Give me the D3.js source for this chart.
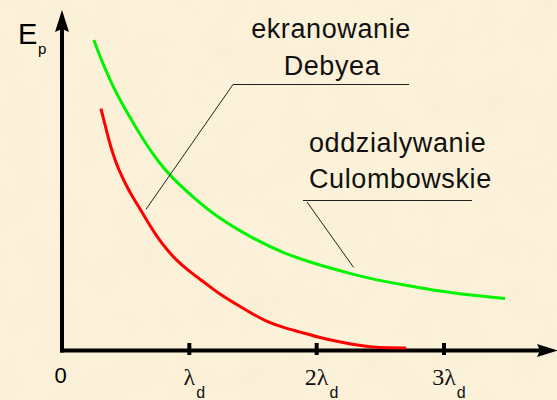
<!DOCTYPE html>
<html>
<head>
<meta charset="utf-8">
<script src="https://cdn.jsdelivr.net/npm/d3@7"></script>
<style>
  html, body { margin: 0; padding: 0; background: #fbf0d8; }
  svg { display: block; }
</style>
</head>
<body>
<svg id="chart" width="557" height="400"></svg>
<script>
// Distance in units of the Debye length λd, energy in arbitrary units
const coulombX = [0.25, 0.30, 0.35, 0.40, 0.46, 0.56, 0.66, 0.76, 0.86, 1.03, 1.22, 1.48, 1.74, 2.00, 2.26, 2.44, 2.71, 2.97, 3.23, 3.48];
const coulombY = [3.10, 2.93, 2.78, 2.64, 2.49, 2.27, 2.06, 1.88, 1.73, 1.53, 1.33, 1.13, 0.97, 0.86, 0.77, 0.71, 0.65, 0.59, 0.55, 0.52];

const debyeX = [0.306, 0.338, 0.377, 0.416, 0.456, 0.510, 0.558, 0.613, 0.668, 0.746, 0.825, 0.903, 1.005, 1.123, 1.241, 1.359, 1.476, 1.610, 1.751, 1.869, 2.003, 2.144, 2.262, 2.419, 2.576, 2.702];
const debyeY = [2.415, 2.255, 2.055, 1.905, 1.775, 1.635, 1.525, 1.415, 1.295, 1.135, 1.005, 0.895, 0.785, 0.675, 0.560, 0.470, 0.380, 0.285, 0.225, 0.185, 0.135, 0.095, 0.065, 0.035, 0.025, 0.025];

const tickValues = [1, 2, 3];
const tickLabels = ["λ", "2λ", "3λ"];
const tickSub = "d";

const debyeLabel = ["ekranowanie", "Debyea"];
const coulombLabel = ["oddzialywanie", "Culombowskie"];

const svg = d3.select("#chart");
const W = 557, H = 400;

// parchment background
const defs = svg.append("defs");
const filt = defs.append("filter").attr("id", "paper").attr("x", 0).attr("y", 0).attr("width", "100%").attr("height", "100%");
filt.append("feTurbulence").attr("type", "fractalNoise").attr("baseFrequency", 0.025).attr("numOctaves", 3).attr("seed", 7);
filt.append("feColorMatrix").attr("type", "matrix")
  .attr("values", "0 0 0 0 0.80  0 0 0 0 0.68  0 0 0 0 0.45  0 0 0 0.22 -0.08");
svg.append("rect").attr("width", W).attr("height", H).attr("fill", "#fcf2da");
svg.append("rect").attr("width", W).attr("height", H).attr("filter", "url(#paper)");

const x = d3.scaleLinear().domain([0, 3]).range([62, 444]);
const y = d3.scaleLinear().domain([0, 3.4]).range([350.5, 10]);

const x0 = x(0), y0 = y(0);

// axes
const axes = svg.append("g").attr("fill", "#000").attr("stroke", "#000");
axes.append("line")
  .attr("x1", x0).attr("x2", x0).attr("y1", y0 + 2).attr("y2", 26)
  .attr("stroke-width", 4);
axes.append("line")
  .attr("x1", x0 - 2).attr("x2", 542).attr("y1", y0).attr("y2", y0)
  .attr("stroke-width", 4);
axes.append("path")
  .attr("stroke", "none")
  .attr("d", `M${x0},10 L${x0 + 7},32 L${x0},29 L${x0 - 7},32 Z`);
axes.append("path")
  .attr("stroke", "none")
  .attr("d", `M558,${y0} L537,${y0 - 6.5} L540,${y0} L537,${y0 + 6.5} Z`);

// tick marks
axes.selectAll("line.tick")
  .data(tickValues)
  .join("line")
  .attr("class", "tick")
  .attr("x1", d => x(d)).attr("x2", d => x(d))
  .attr("y1", y0 - 7.5).attr("y2", y0 + 4.5)
  .attr("stroke-width", 4);

// tick labels
svg.append("text")
  .attr("x", x0 - 1.5).attr("y", 383)
  .attr("text-anchor", "middle")
  .attr("font-family", "Liberation Sans, Arial, sans-serif")
  .attr("font-size", 22)
  .text("0");

tickValues.forEach((v, i) => {
  const main = svg.append("text")
    .attr("x", x(v)).attr("y", 385)
    .attr("text-anchor", "middle")
    .attr("font-family", "Liberation Serif, Times New Roman, serif")
    .attr("font-size", 24)
    .attr("fill", "#111")
    .text(tickLabels[i]);
  const w = main.node().getComputedTextLength();
  svg.append("text")
    .attr("x", x(v) + w / 2 + 1).attr("y", 398)
    .attr("font-family", "Liberation Sans, Arial, sans-serif")
    .attr("font-size", 16)
    .attr("fill", "#111")
    .text(tickSub);
});

// y axis title
svg.append("text")
  .attr("x", 18).attr("y", 44)
  .attr("font-family", "Liberation Sans, Arial, sans-serif")
  .attr("font-size", 29)
  .text("E");
svg.append("text")
  .attr("x", 38).attr("y", 54)
  .attr("font-family", "Liberation Sans, Arial, sans-serif")
  .attr("font-size", 15)
  .text("p");

// curves
const line = d3.line()
  .x(d => x(d[0]))
  .y(d => y(d[1]))
  .curve(d3.curveBasis);

svg.append("path")
  .datum(d3.zip(coulombX, coulombY))
  .attr("fill", "none")
  .attr("stroke", "#00f400")
  .attr("stroke-width", 3)
  .attr("d", line);

svg.append("path")
  .datum(d3.zip(debyeX, debyeY))
  .attr("fill", "none")
  .attr("stroke", "#ff0000")
  .attr("stroke-width", 3)
  .attr("d", line);

// annotations
const txt = svg.append("g")
  .attr("font-family", "Liberation Sans, Arial, sans-serif")
  .attr("font-size", 27)
  .attr("letter-spacing", 0.6)
  .attr("fill", "#111");

txt.append("text").attr("x", 331).attr("y", 38).attr("text-anchor", "middle").text(debyeLabel[0]);
txt.append("text").attr("x", 332).attr("y", 75).attr("text-anchor", "middle").text(debyeLabel[1]);
txt.append("text").attr("x", 309).attr("y", 152).text(coulombLabel[0]);
txt.append("text").attr("x", 309).attr("y", 188).text(coulombLabel[1]);

const leaders = svg.append("g")
  .attr("fill", "none")
  .attr("stroke", "#222")
  .attr("stroke-width", 1);

// Debye leader: underline, then down to the red curve
leaders.append("polyline")
  .attr("points", [[409, 84.5], [233, 84.5], [x(0.66), y(1.41)]].map(p => p.join(",")).join(" "));
// Coulomb leader: underline, then down to the green curve
leaders.append("line")
  .attr("x1", 303).attr("x2", 472).attr("y1", 200.5).attr("y2", 200.5);
leaders.append("line")
  .attr("x1", 307).attr("y1", 202).attr("x2", x(2.29)).attr("y2", y(0.83));
</script>
</body>
</html>
